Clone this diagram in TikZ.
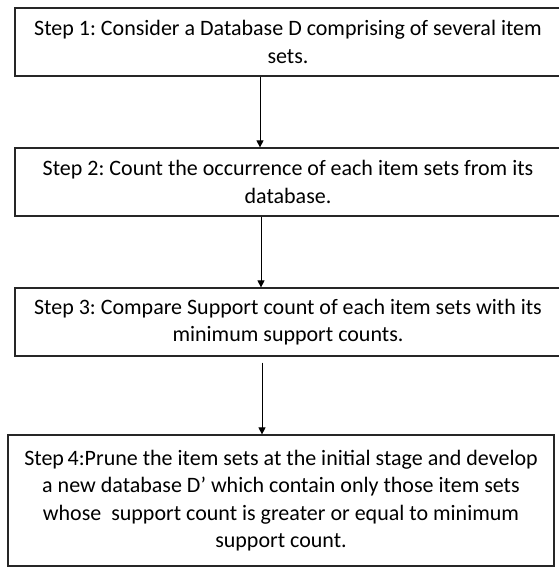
\documentclass[tikz,border=0pt]{standalone}
\usepackage{fontspec}
\setmainfont{Carlito}
\usepackage{tikz}
\usetikzlibrary{positioning,arrows.meta}
\frenchspacing

\begin{document}
\begin{tikzpicture}[x=1pt, y=-1pt,
    every node/.style={font=\fontsize{22}{27.5}\selectfont},
    stepbox/.style={draw=black!85, line width=1.2pt, minimum width=546pt,
        align=center, inner sep=0pt},
    flow/.style={-{Triangle[length=7pt,width=7pt]}, line width=0.8pt}]
    \useasboundingbox (0,0) rectangle (558,567);
    % the four steps
    \node[stepbox, minimum height=68pt] (s1) at (288,42)
        {Step 1: Consider a Database D comprising of several item\\sets.};
    \node[stepbox, minimum height=68pt] (s2) at (288,182)
        {Step 2: Count the occurrence of each item sets from its\\database.};
    \node[stepbox, minimum height=68pt] (s3) at (288,322)
        {Step 3: Compare Support count of each item sets with its\\minimum support counts.};
    \node[stepbox, minimum height=131pt] (s4) at (281,500.5)
        {Step\,4:Prune the item sets at the initial stage and develop\\
         a new database D’ which contain only those item sets\\
         whose\ \ support count is greater or equal to minimum\\
         support count.};
    % arrows between them
    \draw[flow] ([xshift=-28pt]s1.south) -- ([xshift=-28pt]s1.south |- s2.north);
    \draw[flow] ([xshift=-27pt]s2.south) -- ([xshift=-27pt]s2.south |- s3.north);
    \draw[flow] ([shift={(-26pt,-6pt)}]s3.south) -- ([xshift=-26pt]s3.south |- s4.north);
\end{tikzpicture}
\end{document}
